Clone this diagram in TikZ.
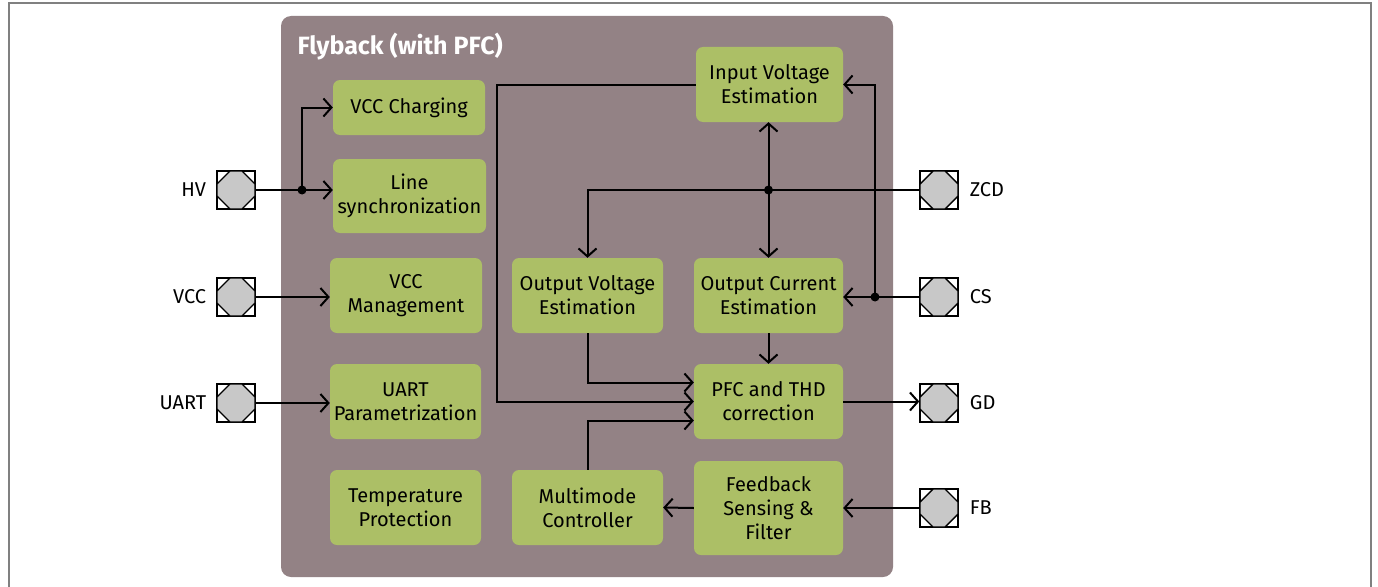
\documentclass[tikz,border=0pt]{standalone}
\usepackage{fontspec}
\setmainfont{Fira Sans}
\usetikzlibrary{arrows.meta,positioning}
\definecolor{framegray}{RGB}{128,128,128}
\definecolor{flybackfill}{RGB}{147,130,133}
\definecolor{blockfill}{RGB}{172,191,102}
\definecolor{pingray}{RGB}{200,200,200}
\tikzset{
  blk/.style={fill=blockfill, rounded corners=7pt, align=center, inner sep=0pt,
    minimum width=150pt, minimum height=75pt, font=\fontsize{20}{24}\selectfont},
  pin/.style={draw, fill=white, line width=1.4pt, minimum size=38pt, inner sep=0pt},
  octa/.style={draw, fill=pingray, line width=1.4pt},
  pinlabel/.style={font=\fontsize{20}{22}\selectfont, inner sep=0pt},
  sig/.style={line width=2pt, -{Straight Barb[length=8pt,width=18pt,line width=2pt]}},
  wire/.style={line width=2pt},
  dot/.style={circle, fill=black, inner sep=0pt, minimum size=9pt}
}
\begin{document}
\begin{tikzpicture}[x=1pt,y=-1pt]
\useasboundingbox (0,0) rectangle (1378,586);
\draw[framegray, line width=2pt] (9,3) rectangle (1371,600);

% flyback area
\fill[flybackfill, rounded corners=10pt] (281,16) rectangle (893,577);
\node[anchor=west, text=white, font=\fontsize{25}{28}\selectfont\bfseries] (title) at (294,47) {Flyback (with PFC)};

% blocks
\node[blk, minimum width=152pt, minimum height=55pt] (chg) at (409,107.5) {VCC Charging};
\node[blk, minimum width=153pt, minimum height=74pt] (sync) at (409.5,196) {Line\\synchronization};
\node[blk, minimum width=152pt] (mgmt) at (406,295.5) {VCC\\Management};
\node[blk, minimum width=151pt] (uart) at (405.5,401.5) {UART\\Parametrization};
\node[blk, minimum width=151pt] (temp) at (405.5,507.5) {Temperature\\Protection};
\node[blk, minimum width=147pt] (ive) at (769.5,84.5) {Input Voltage\\Estimation};
\node[blk, minimum width=151pt] (ove) at (587.5,295.5) {Output Voltage\\Estimation};
\node[blk, minimum width=149pt] (oce) at (768.5,295.5) {Output Current\\Estimation};
\node[blk, minimum width=149pt] (pfc) at (768.5,401.5) {PFC and THD\\correction};
\node[blk, minimum width=151pt] (multi) at (587.5,507.5) {Multimode\\Controller};
\node[blk, minimum width=149pt, minimum height=94pt] (fbk) at (768.5,508) {Feedback\\Sensing \&\\Filter};

% pins
\node[pin] (hv) at (236,190) {};
\node[pin] (vcc) at (236,297) {};
\node[pin] (uartpin) at (236,403) {};
\node[pin] (zcd) at (939,190) {};
\node[pin] (cs) at (939,297) {};
\node[pin] (gd) at (939,403) {};
\node[pin] (fb) at (939,508) {};
\foreach \p in {hv,vcc,uartpin,zcd,cs,gd,fb}
  \draw[octa, shift={(\p.center)}] (-6,-19) -- (6,-19) -- (19,-6) -- (19,6)
    -- (6,19) -- (-6,19) -- (-19,6) -- (-19,-6) -- cycle;

\node[pinlabel, left=10pt of hv] (hvlabel) {HV};
\node[pinlabel, left=10pt of vcc] (vcclabel) {VCC};
\node[pinlabel, left=10pt of uartpin] (uartlabel) {UART};
\node[pinlabel, right=11pt of zcd] (zcdlabel) {ZCD};
\node[pinlabel, right=11pt of cs] (cslabel) {CS};
\node[pinlabel, right=11pt of gd] (gdlabel) {GD};
\node[pinlabel, right=11pt of fb] (fblabel) {FB};

% junctions
\node[dot] (hvjoin) at (302,190) {};
\node[dot] (zcdjoin) at (768.5,190) {};
\node[dot] (csjoin) at (875,297) {};

% left side
\draw[sig] (hv.east) -- (hv.east -| sync.west);
\draw[sig] (hvjoin.center) |- (chg.west);
\draw[sig] (vcc.east) -- (vcc.east -| mgmt.west);
\draw[sig] (uartpin.east) -- (uartpin.east -| uart.west);

% zcd and cs
\draw[sig] (zcd.west) -| (ove.north);
\draw[sig] (zcdjoin.center) -- (zcdjoin |- ive.south);
\draw[sig] (zcdjoin.center) -- (oce.north);
\draw[sig] (cs.west) -- (cs.west -| oce.east);
\draw[sig] (csjoin.center) |- (ive.east);

% into pfc
\draw[sig] (ive.west) -- (497,84.5) |- (pfc.west);
\draw[sig] (ove.south) |- ([yshift=19pt]pfc.west);
\draw[sig] (multi.north) |- ([yshift=-19pt]pfc.west);
\draw[sig] (oce.south) -- (pfc.north);
\draw[sig] (pfc.east) -- (pfc.east -| gd.west);
\draw[sig] (fb.west) -- (fb.west -| fbk.east);
\draw[sig] (fbk.west) -- (multi.east);
\end{tikzpicture}
\end{document}
